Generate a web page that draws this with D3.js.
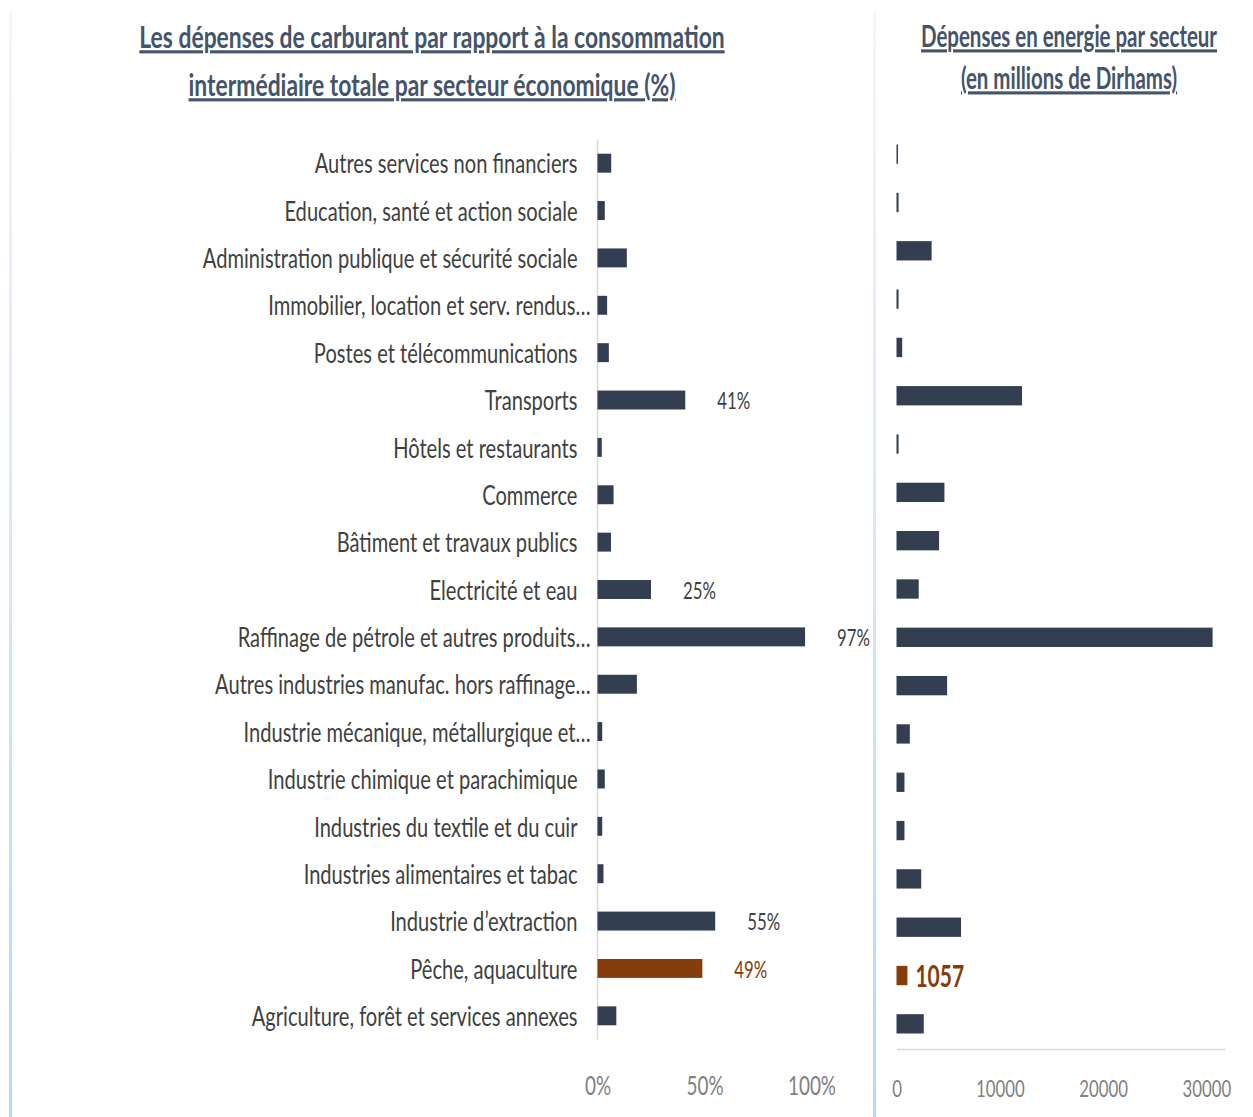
<!DOCTYPE html>
<html>
<head>
<meta charset="utf-8">
<script src="https://cdn.jsdelivr.net/npm/d3@7"></script>
<style>
    body { margin: 0; background: #fff; }
    text { font-family: Lato, "Open Sans", sans-serif; }
</style>
</head>
<body>
<svg id="chart" width="1253" height="1117"></svg>
<script>

// Data (top to bottom, as in the picture)
const sectors = [
    'Autres services non financiers',
    'Education, santé et action sociale',
    'Administration publique et sécurité sociale',
    'Immobilier, location et serv. rendus…',
    'Postes et télécommunications',
    'Transports',
    'Hôtels et restaurants',
    'Commerce',
    'Bâtiment et travaux publics',
    'Electricité et eau',
    'Raffinage de pétrole et autres produits…',
    'Autres industries manufac. hors raffinage…',
    'Industrie mécanique, métallurgique et…',
    'Industrie chimique et parachimique',
    'Industries du textile et du cuir',
    'Industries alimentaires et tabac',
    'Industrie d’extraction',
    'Pêche, aquaculture',
    'Agriculture, forêt et services annexes'
];
const fuelShare = [6.4, 3.4, 13.7, 4.5, 5.3, 41, 2, 7.5, 6.3, 25, 97, 18.4, 2.2, 3.4, 2.2, 2.8, 55, 49, 8.8];
const fuelLabels = [null, null, null, null, null, '41%', null, null, null, '25%', '97%', null, null, null, null, null, '55%', '49%', null];
const energySpend = [100, 200, 3400, 200, 550, 12150, 200, 4640, 4120, 2150, 30600, 4900, 1290, 770, 770, 2390, 6250, 1057, 2640];
const highlighted = 'Pêche, aquaculture';
const pctTicks = [0, 50, 100];
const spendTicks = [0, 10000, 20000, 30000];

const COLOR_BAR = '#333f50',
      COLOR_HIGHLIGHT = '#843c0c',
      COLOR_TITLE = '#44546a',
      COLOR_LABEL = '#404040',
      COLOR_TICK = '#7f7f7f',
      SX = 0.7,         // narrow the glyphs like the original condensed font
      SX_LABEL = 0.745;

const svg = d3.select('#chart');

// Frame lines
const grad = svg.append('defs').append('linearGradient')
    .attr('id', 'frame').attr('x1', 0).attr('x2', 0).attr('y1', 0).attr('y2', 1);
grad.append('stop').attr('offset', '0%').attr('stop-color', '#f3f7fc');
grad.append('stop').attr('offset', '100%').attr('stop-color', '#bcd6ef');
[10.5, 874.5].forEach((x) => {
    svg.append('rect').attr('x', x - 1.5).attr('y', 12).attr('width', 3).attr('height', 1105)
        .attr('fill', 'url(#frame)');
});

function title(x, lines, y0, dy, size, sx) {
    lines.forEach((t, i) => {
        svg.append('text')
            .attr('transform', `translate(${x},${y0 + i * dy}) scale(${sx},1)`)
            .attr('text-anchor', 'middle')
            .attr('font-size', size)
            .attr('font-weight', 'bold')
            .attr('fill', COLOR_TITLE)
            .attr('text-decoration', 'underline')
            .text(t);
    });
}
title(432, ['Les dépenses de carburant par rapport à la consommation',
            'intermédiaire totale par secteur économique (%)'], 48, 48, 31, 0.738);
title(1069, ['Dépenses en energie par secteur', '(en millions de Dirhams)'], 47, 42, 31, 0.66);

// Left chart: share of fuel
const xPct = d3.scaleLinear().domain([0, 100]).range([597.5, 811.5]);
const yLeft = d3.scaleBand().domain(sectors).range([139.5, 1039.5]).paddingInner(0.6).paddingOuter(0.3);

const left = svg.append('g');
left.append('line')
    .attr('x1', xPct(0)).attr('x2', xPct(0))
    .attr('y1', yLeft.range()[0]).attr('y2', yLeft.range()[1])
    .attr('stroke', '#d9d9d9').attr('stroke-width', 1.5);

const yAxisLeft = left.append('g')
    .attr('transform', `translate(${xPct(0) - 20},0)`)
    .call(d3.axisLeft(yLeft).tickSize(0).tickPadding(0));
yAxisLeft.select('.domain').remove();
// Truncated labels overflow a little towards the axis, as in Excel
yAxisLeft.selectAll('text')
    .attr('x', null).attr('dy', null)
    .attr('transform', (d) => `translate(${d.endsWith('…') ? 13 : 0},0) scale(${SX_LABEL},1)`)
    .attr('dominant-baseline', 'central')
    .attr('font-family', 'Lato, sans-serif')
    .attr('font-size', 27)
    .attr('fill', COLOR_LABEL);

left.selectAll('.bar').data(sectors).enter().append('rect')
    .attr('x', xPct(0))
    .attr('y', (d) => yLeft(d))
    .attr('height', yLeft.bandwidth())
    .attr('width', (d, i) => xPct(fuelShare[i]) - xPct(0))
    .attr('fill', (d) => d === highlighted ? COLOR_HIGHLIGHT : COLOR_BAR);

left.selectAll('.val').data(sectors.filter((d, i) => fuelLabels[i])).enter().append('text')
    .attr('transform', (d) => {
        let i = sectors.indexOf(d);
        return `translate(${xPct(fuelShare[i]) + 32},${yLeft(d) + yLeft.bandwidth() / 2}) scale(${SX},1)`;
    })
    .attr('dominant-baseline', 'central')
    .attr('font-size', 24)
    .attr('fill', (d) => d === highlighted ? COLOR_HIGHLIGHT : COLOR_LABEL)
    .text((d) => fuelLabels[sectors.indexOf(d)]);

const xAxisLeft = left.append('g')
    .attr('transform', 'translate(0,1085)')
    .call(d3.axisBottom(xPct).tickValues(pctTicks).tickFormat((v) => v + '%').tickSize(0).tickPadding(0));
xAxisLeft.select('.domain').remove();
xAxisLeft.selectAll('text')
    .attr('y', null).attr('dy', null)
    .attr('transform', `scale(${SX},1)`)
    .attr('dominant-baseline', 'central')
    .attr('font-family', 'Lato, sans-serif')
    .attr('font-size', 27)
    .attr('fill', COLOR_TICK);

// Right chart: energy spending
const xSpend = d3.scaleLinear().domain([0, 31800]).range([896.5, 1225]);
const yRight = d3.scaleBand().domain(sectors).range([130, 1048]).paddingInner(0.6).paddingOuter(0.3);

const right = svg.append('g');
right.selectAll('.bar').data(sectors).enter().append('rect')
    .attr('x', xSpend(0))
    .attr('y', (d) => yRight(d))
    .attr('height', yRight.bandwidth())
    .attr('width', (d, i) => Math.max(1.5, xSpend(energySpend[i]) - xSpend(0)))
    .attr('fill', (d) => d === highlighted ? COLOR_HIGHLIGHT : COLOR_BAR);

right.append('text')
    .attr('transform', `translate(${xSpend(energySpend[sectors.indexOf(highlighted)]) + 8},${yRight(highlighted) + yRight.bandwidth() / 2}) scale(${SX},1)`)
    .attr('dominant-baseline', 'central')
    .attr('font-size', 30)
    .attr('font-weight', 'bold')
    .attr('fill', COLOR_HIGHLIGHT)
    .text(energySpend[sectors.indexOf(highlighted)]);

const xAxisRight = right.append('g')
    .attr('transform', 'translate(0,1049)')
    .call(d3.axisBottom(xSpend).tickValues(spendTicks).tickFormat(d3.format('d')).tickSize(0).tickPadding(0));
xAxisRight.select('.domain').attr('stroke', '#d9d9d9').attr('stroke-width', 1.5);
xAxisRight.selectAll('text')
    .attr('y', null).attr('dy', null)
    .attr('transform', `translate(0,39) scale(${SX},1)`)
    .attr('dominant-baseline', 'central')
    .attr('font-family', 'Lato, sans-serif')
    .attr('font-size', 24)
    .attr('fill', COLOR_TICK);

</script>
</body>
</html>
